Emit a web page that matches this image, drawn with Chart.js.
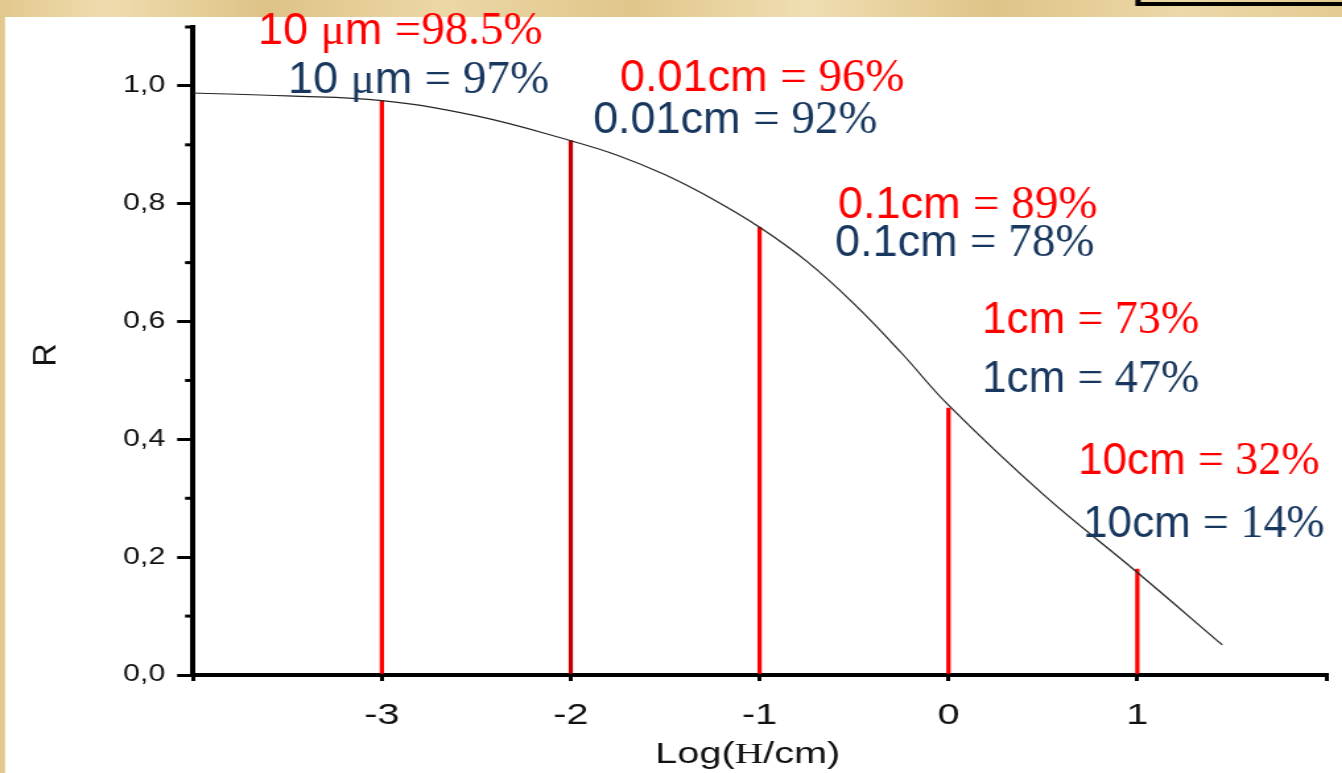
<!DOCTYPE html>
<html>
<head>
<meta charset="utf-8">
<script src="https://cdn.jsdelivr.net/npm/chart.js@4.4.1/dist/chart.umd.min.js"></script>
<style>
    html, body { margin: 0; padding: 0; background: #e6cf98; overflow: hidden; }
    #wrap { width: 1017px; height: 773px; transform: scaleX(1.3196); transform-origin: 0 0; }
</style>
</head>
<body>
<div id="wrap"><canvas id="reflect-graph" width="1017" height="773"></canvas></div>
<script>
// the original plot is a horizontally stretched picture, so the canvas is too
const stretch = 1342 / 1017;

// curve R(log H)
const logH = [-4, -3.5, -3, -2.5, -2, -1.75, -1.5, -1.25, -1, -0.75, -0.5, -0.25, 0, 0.5, 1, 1.45];
const reflect = [0.988, 0.983, 0.975, 0.949, 0.907, 0.882, 0.849, 0.808, 0.760, 0.702, 0.630, 0.547, 0.458, 0.307, 0.174, 0.051];

// red marker lines
const markX = [-3, -2, -1, 0, 1];
const markR = [0.975, 0.907, 0.760, 0.453, 0.180];
const markColors = ['#ff0000', '#c00000', '#ff0000', '#ff0000', '#ff0000'];

const xTickLabels = ['-3', '-2', '-1', '0', '1'];
const yTickLabels = ['0,0', '0,2', '0,4', '0,6', '0,8', '1,0'];

// text boxes
const thickness = ['10 µm', '0.01cm', '0.1cm', '1cm', '10cm'];
const redPct = ['98.5%', '96%', '89%', '73%', '32%'];
const bluePct = ['97%', '92%', '78%', '47%', '14%'];

// where the text boxes sit (in axis units) and how big
const redAt = [[-3.656, 1.071], [-1.739, 0.992], [-0.585, 0.776], [0.178, 0.580], [0.686, 0.342]];
const blueAt = [[-3.497, 0.988], [-1.882, 0.920], [-0.601, 0.712], [0.178, 0.480], [0.713, 0.234]];
const boxFont = [45, 45, 45, 44, 44];

const red = '#ff0000';
const navy = '#17375e';
const sansFont = '"Liberation Sans", Arial, sans-serif';
const serifFont = '"Liberation Serif", "Times New Roman", serif';

const paper = {
    id: 'paper',
    beforeDraw(chart) {
        const c = chart.ctx;
        const w = chart.width, h = chart.height;
        c.save();
        const g = c.createLinearGradient(0, 0, w, 0);
        g.addColorStop(0, '#e2c88e');
        g.addColorStop(0.08, '#efdcae');
        g.addColorStop(0.2, '#dec387');
        g.addColorStop(0.33, '#ecd7a6');
        g.addColorStop(0.47, '#e0c68b');
        g.addColorStop(0.6, '#f0deb2');
        g.addColorStop(0.74, '#dfc489');
        g.addColorStop(0.88, '#ecd8a8');
        g.addColorStop(1, '#e4cb93');
        c.fillStyle = g;
        c.fillRect(0, 0, w, h);
        c.fillStyle = '#ffffff';
        c.fillRect(5 / stretch, 17, w, h);
        // corner of a framed box at top right
        c.strokeStyle = '#000';
        c.lineWidth = 4;
        c.strokeRect(1138 / stretch, -30, 400, 34);
        c.restore();
    }
};

const axisExtras = {
    id: 'axisExtras',
    afterDraw(chart) {
        const c = chart.ctx;
        const {y} = chart.scales;
        const area = chart.chartArea;
        c.save();
        // minor ticks on R axis
        c.strokeStyle = '#000';
        c.lineWidth = 3;
        [0.1, 0.3, 0.5, 0.7, 0.9, 1.1].forEach(v => {
            const py = y.getPixelForValue(v);
            c.beginPath();
            c.moveTo(area.left - 6, py);
            c.lineTo(area.left, py);
            c.stroke();
        });
        // axis titles
        c.fillStyle = '#111';
        c.textBaseline = 'alphabetic';
        const parts = [['Log(', sansFont], ['H', serifFont], ['/cm)', sansFont]];
        let total = 0;
        parts.forEach(p => { c.font = '30px ' + p[1]; total += c.measureText(p[0]).width; });
        let px = (area.left + area.right) / 2 - 9 - total / 2;
        parts.forEach(p => {
            c.font = '30px ' + p[1];
            c.fillText(p[0], px, chart.height - 10);
            px += c.measureText(p[0]).width;
        });
        c.restore();

        c.save();
        c.scale(1 / stretch, 1);
        c.translate(47, (area.top + area.bottom) / 2 + 4);
        c.rotate(-Math.PI / 2);
        c.font = '32px ' + sansFont;
        c.fillStyle = '#111';
        c.textAlign = 'center';
        c.textBaseline = 'middle';
        c.fillText('R', 0, 0);
        c.restore();
    }
};

function drawBox(c, x, y, pos, sans, eq, pct, size, color) {
    let px = x.getPixelForValue(pos[0]) * stretch;
    const py = y.getPixelForValue(pos[1]);
    c.fillStyle = color;
    // the mu sign is set in the serif face, like a symbol font
    (sans + ' ').split(/(µ)/).forEach(piece => {
        if (!piece) return;
        c.font = piece === 'µ' ? size + 'px ' + serifFont : size + 'px ' + sansFont;
        const t = piece === 'µ' ? 'μ' : piece;
        c.fillText(t, px, py);
        px += c.measureText(t).width;
    });
    c.font = Math.round(size * 1.05) + 'px ' + serifFont;
    c.fillText(eq + pct, px, py);
}

const textBoxes = {
    id: 'textBoxes',
    afterDraw(chart) {
        const c = chart.ctx;
        const {x, y} = chart.scales;
        c.save();
        c.scale(1 / stretch, 1);
        c.textBaseline = 'alphabetic';
        thickness.forEach((t, i) => {
            drawBox(c, x, y, redAt[i], t, i === 0 ? '=' : '= ', redPct[i], boxFont[i], red);
            drawBox(c, x, y, blueAt[i], t, '= ', bluePct[i], boxFont[i], navy);
        });
        c.restore();
    }
};

const ctx = document.getElementById('reflect-graph').getContext('2d');

new Chart(ctx, {
    type: 'bar',
    data: {
        datasets: [
            {
                type: 'line',
                label: 'R',
                data: logH.map((v, i) => ({x: v, y: reflect[i]})),
                borderColor: '#262626',
                borderWidth: 1.2,
                pointRadius: 0,
                tension: 0.4,
                fill: false,
                order: 1,
            },
            {
                type: 'bar',
                label: 'H',
                data: markX.map((v, i) => ({x: v, y: markR[i]})),
                backgroundColor: markColors,
                barThickness: 2.6,
                order: 2,
            },
        ],
    },
    options: {
        responsive: false,
        animation: false,
        devicePixelRatio: 1,
        layout: {
            padding: {left: 0, right: 12, top: 27, bottom: 0}
        },
        plugins: {
            legend: {display: false},
            tooltip: {enabled: false},
        },
        scales: {
            x: {
                type: 'linear',
                min: -4,
                max: 2,
                offset: false,
                afterFit: s => {
                    s.height = 98;
                    s.paddingLeft = 0;
                    s.paddingRight = 0;
                },
                ticks: {
                    stepSize: 1,
                    autoSkip: false,
                    maxRotation: 0,
                    padding: 17,
                    color: '#111',
                    font: {family: sansFont, size: 30},
                    callback: v => (v >= -3 && v <= 1) ? xTickLabels[v + 3] : '',
                },
                grid: {
                    offset: false,
                    drawOnChartArea: false,
                    tickLength: 6,
                    color: '#000',
                    lineWidth: 3,
                },
                border: {display: true, color: '#000', width: 4},
            },
            y: {
                min: 0,
                max: 1.1,
                afterFit: s => {
                    s.width = 193 / stretch;
                    s.paddingTop = 0;
                    s.paddingBottom = 0;
                },
                ticks: {
                    stepSize: 0.1,
                    autoSkip: false,
                    padding: 9,
                    color: '#111',
                    font: {family: sansFont, size: 23},
                    callback: v => {
                        const k = Math.round(v * 10);
                        return k % 2 === 0 ? yTickLabels[k / 2] : '';
                    },
                },
                grid: {
                    drawOnChartArea: false,
                    tickLength: 12,
                    lineWidth: 3,
                    color: '#000',
                    tickColor: c => (Math.round(c.tick.value * 10) % 2 === 0 ? '#000' : 'rgba(0,0,0,0)'),
                },
                border: {display: true, color: '#000', width: 4},
            },
        },
    },
    plugins: [paper, axisExtras, textBoxes],
});
</script>
</body>
</html>
